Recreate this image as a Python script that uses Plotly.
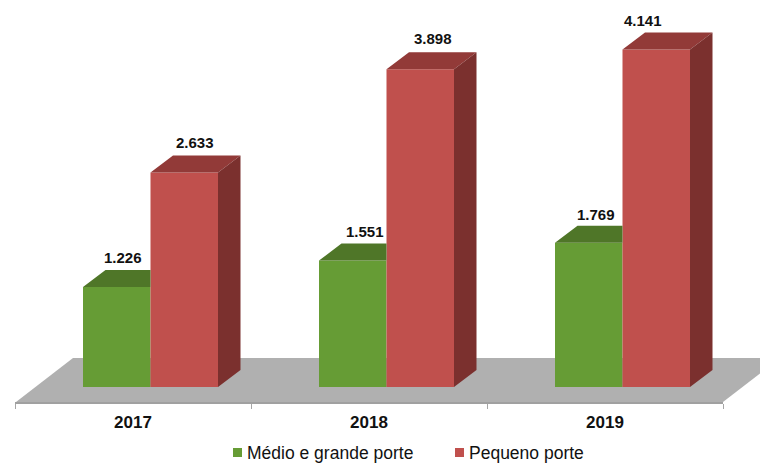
import plotly.graph_objects as go

years = ["2017", "2018", "2019"]
medio = [1.226, 1.551, 1.769]
pequeno = [2.633, 3.898, 4.141]
series_names = ["Médio e grande porte", "Pequeno porte"]

W, H = 760, 463
L, R, AXIS_Y, BASE_Y = 15, 723, 402, 387
PX_X = (R - L) / 3
PX_Y = 81.5
DX, DY = 22.5 / PX_X, 17 / PX_Y
BAR_W = 67.5 / PX_X
OFF_G, OFF_R = -16.25 / PX_X, 51.25 / PX_X
xs = list(range(len(years)))
GREEN, GREEN_TOP = "#669C35", "#4F7628"
RED, RED_TOP, RED_SIDE = "#C0504D", "#923A38", "#7B302E"
FONT = "Liberation Sans"

def poly(faces):
    px, py = [], []
    for f in faces:
        px += [p[0] for p in f] + [f[0][0], None]
        py += [p[1] for p in f] + [f[0][1], None]
    return px, py

def face(px, py, color):
    return go.Scatter(x=px, y=py, mode="lines", fill="toself", fillcolor=color,
                      line=dict(width=0, color=color), cliponaxis=False,
                      showlegend=False, hoverinfo="skip")

fig = go.Figure()
fig.add_bar(x=[x + OFF_G for x in xs], y=medio, width=BAR_W, name=series_names[0],
            marker=dict(color=GREEN, line_width=0), showlegend=False, hoverinfo="y")
fig.add_bar(x=[x + OFF_R for x in xs], y=pequeno, width=BAR_W, name=series_names[1],
            marker=dict(color=RED, line_width=0), showlegend=False, hoverinfo="y")

# green top (the part not hidden by the red bar)
g = [[(x + OFF_G - BAR_W / 2, v), (x + OFF_G + BAR_W / 2, v), (x + OFF_G + BAR_W / 2, v + DY),
      (x + OFF_G - BAR_W / 2 + DX, v + DY)] for x, v in zip(xs, medio)]
fig.add_trace(face(*poly(g), GREEN_TOP))
# red top and side
t = [[(x + OFF_R - BAR_W / 2, v), (x + OFF_R + BAR_W / 2, v), (x + OFF_R + BAR_W / 2 + DX, v + DY),
      (x + OFF_R - BAR_W / 2 + DX, v + DY)] for x, v in zip(xs, pequeno)]
fig.add_trace(face(*poly(t), RED_TOP))
s = [[(x + OFF_R + BAR_W / 2, 0), (x + OFF_R + BAR_W / 2, v), (x + OFF_R + BAR_W / 2 + DX, v + DY),
      (x + OFF_R + BAR_W / 2 + DX, DY)] for x, v in zip(xs, pequeno)]
fig.add_trace(face(*poly(s), RED_SIDE))

# value labels
lab_dx = [6, 12.5, 7, 10.5, 12.5, -13]
lab_dy = [30, 29, 28, 30, 31, 29]
for i, (x, v) in enumerate(zip(xs * 2, medio + pequeno)):
    off = OFF_G if i < 3 else OFF_R
    fig.add_annotation(x=x + off, y=v, text=f"{v:.3f}", showarrow=False, xshift=lab_dx[i], yshift=lab_dy[i],
                       font=dict(family=FONT, size=15, color="#111111", weight="bold"))

def pth(pts):
    return "M" + "L".join(f"{x / W:.5f},{1 - y / H:.5f}" for x, y in pts) + "Z"

shapes = [dict(type="path", xref="paper", yref="paper", layer="below", fillcolor="#B0B0B0",
               line=dict(width=0), path=pth([(16, AXIS_Y), (R, AXIS_Y), (780, 358), (73, 358)]))]

# legend
for name, col, sq_x, tx in [(series_names[0], GREEN, 233, 246), (series_names[1], RED, 455, 468)]:
    shapes.append(dict(type="rect", xref="paper", yref="paper", x0=sq_x / W, x1=(sq_x + 9) / W,
                       y0=1 - 457 / H, y1=1 - 448 / H, fillcolor=col, line=dict(width=0)))
    fig.add_annotation(xref="paper", yref="paper", x=tx / W, y=1 - 452.5 / H, xanchor="left", yanchor="middle",
                       text=name, showarrow=False, xshift=-1,
                       font=dict(family=FONT, size=17.5, color="#111111"))

fig.update_layout(
    width=W, height=H, margin=dict(l=0, r=0, t=0, b=0, pad=0), autosize=False,
    paper_bgcolor="white", plot_bgcolor="rgba(0,0,0,0)", barmode="overlay", showlegend=False,
    font=dict(family=FONT, color="#111111"),
    xaxis=dict(domain=[L / W, R / W], range=[-0.5, 2.5], tickmode="array", tickvals=xs, ticktext=years,
               ticks="", showgrid=False, zeroline=False, showline=True, linecolor="#A0A0A0", linewidth=2,
               ticklabelstandoff=4,
               tickfont=dict(family=FONT, size=17, color="#111111", weight="bold"),
               minor=dict(tickmode="array", tickvals=[-0.5, 0.5, 1.5, 2.5], ticks="outside",
                          ticklen=5, tickcolor="#A6A6A6", tickwidth=1, showgrid=False)),
    yaxis=dict(domain=[1 - AXIS_Y / H, 1], range=[(BASE_Y - AXIS_Y) / PX_Y, BASE_Y / PX_Y],
               visible=False, showgrid=False, zeroline=False),
    shapes=shapes,
)
fig.write_html("out.html", config=dict(displayModeBar=False),
               post_script="document.body.style.margin='0';document.body.style.overflow='hidden';")
